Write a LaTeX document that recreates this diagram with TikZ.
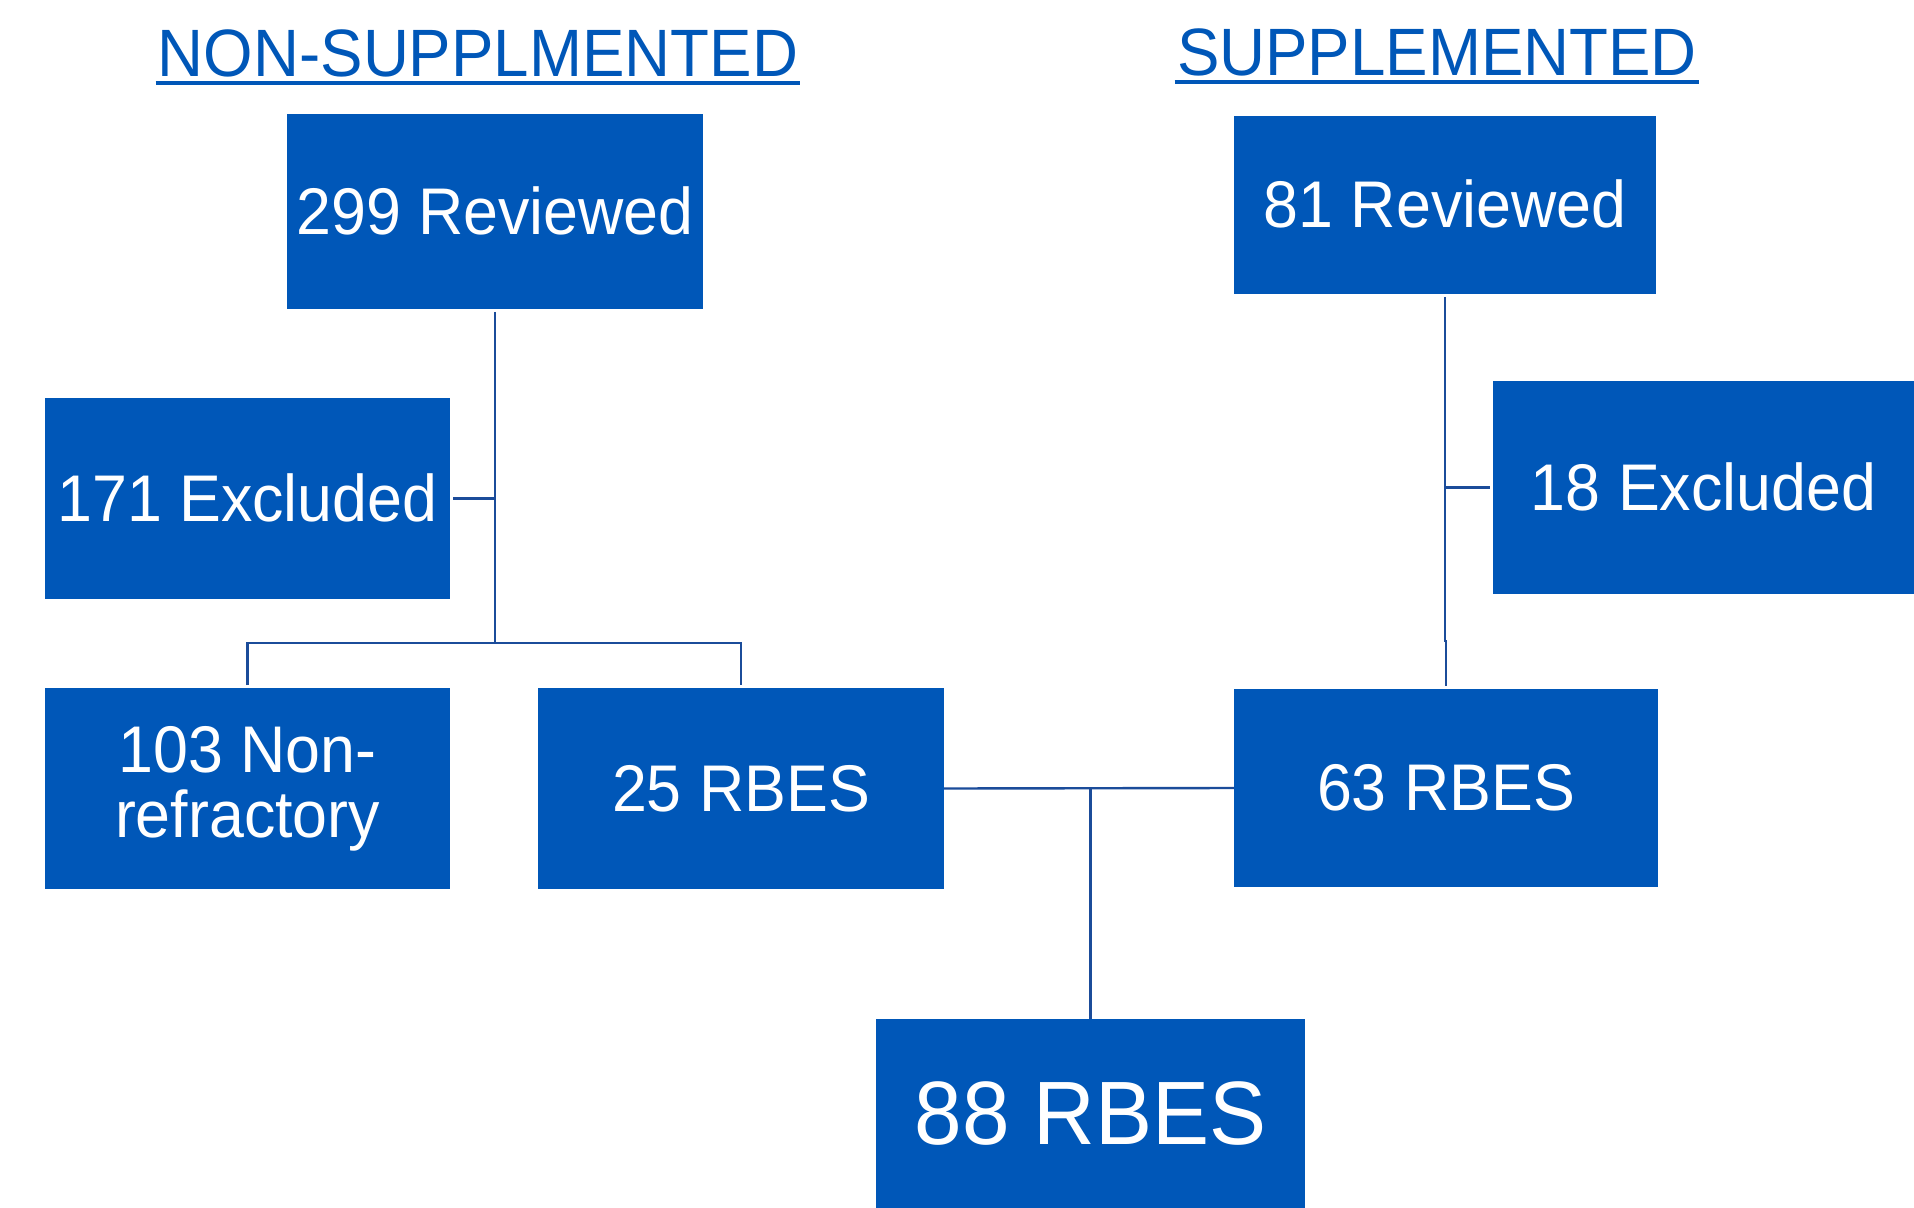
\documentclass[tikz,border=0pt]{standalone}
\usepackage{fontspec}
\setmainfont[FakeStretch=0.95]{Liberation Sans}
\definecolor{boxblue}{HTML}{0057B8}
\definecolor{linkblue}{HTML}{1B4C9A}
\begin{document}
\begin{tikzpicture}[x=0.5pt,y=-0.5pt,
  box/.style={fill=boxblue, draw=none, inner sep=0pt, outer sep=0pt, text=white,
    font=\fontsize{33}{32.5}\selectfont, align=center},
  bigbox/.style={box, font=\fontsize{45}{45}\selectfont},
  link/.style={draw=linkblue, line width=1.2pt},
  heading/.style={text=boxblue, font=\fontsize{33.5}{33.5}\selectfont, inner sep=0pt, anchor=base},
  uline/.style={draw=boxblue, line width=1.6pt}]

\useasboundingbox (0,0) rectangle (1914,1208);
\fill[white] (0,0) rectangle (1914,1208);

% headings
\node[heading] (titleL) at (478,77) {NON-SUPPLMENTED};
\node[heading] (titleR) at (1437,76) {SUPPLEMENTED};
\draw[uline] ([yshift=-3pt,xshift=-1pt]titleL.base west) -- ([yshift=-3pt,xshift=1pt]titleL.base east);
\draw[uline] ([yshift=-3pt,xshift=-1pt]titleR.base west) -- ([yshift=-3pt,xshift=1pt]titleR.base east);

% boxes
\node[box, minimum width=208pt, minimum height=97.5pt] (rev1) at (495,211.5) {\raisebox{1pt}{299 Reviewed}};
\node[box, minimum width=211pt, minimum height=89pt] (rev2) at (1445,205) {\raisebox{1pt}{81 Reviewed}};
\node[box, minimum width=202.5pt, minimum height=100.5pt] (exc1) at (247.5,498.5) {\raisebox{1pt}{171 Excluded}};
\node[box, minimum width=210.5pt, minimum height=106.5pt] (exc2) at (1703.5,487.5) {\raisebox{1pt}{18 Excluded}};
\node[box, minimum width=202.5pt, minimum height=100.5pt] (non) at (247.5,788.5) {103 Non-\\refractory};
\node[box, minimum width=203pt, minimum height=100.5pt] (r25) at (741,788.5) {25 RBES};
\node[box, minimum width=212pt, minimum height=99pt] (r63) at (1446,788) {63 RBES};
\node[bigbox, minimum width=214.5pt, minimum height=94.5pt] (r88) at (1090.5,1113.5) {88 RBES};

% connectors, left tree
\coordinate (j1) at (495,643);
\draw[link] ([yshift=-1.5pt]rev1.south) -- (j1);
\draw[link] ([xshift=1.5pt]exc1.east) -- (exc1.east -| j1);
\draw[link] ([yshift=1.5pt]non.north) -- (non.north |- j1) -- (r25.north |- j1) -- ([yshift=1.5pt]r25.north);

% connectors, right tree
\coordinate (j2) at (1445,641);
\draw[link] ([yshift=-1.5pt]rev2.south) -- (j2) -- (j2 -| r63.north) -- ([yshift=1.5pt]r63.north);
\draw[link] (rev2.south |- exc2.west) -- ([xshift=-1.5pt]exc2.west);

% merge
\draw[link] (r25.east) -- (r63.west);
\draw[link] (r25.east -| r88.north) -- (r88.north);
\end{tikzpicture}
\end{document}
